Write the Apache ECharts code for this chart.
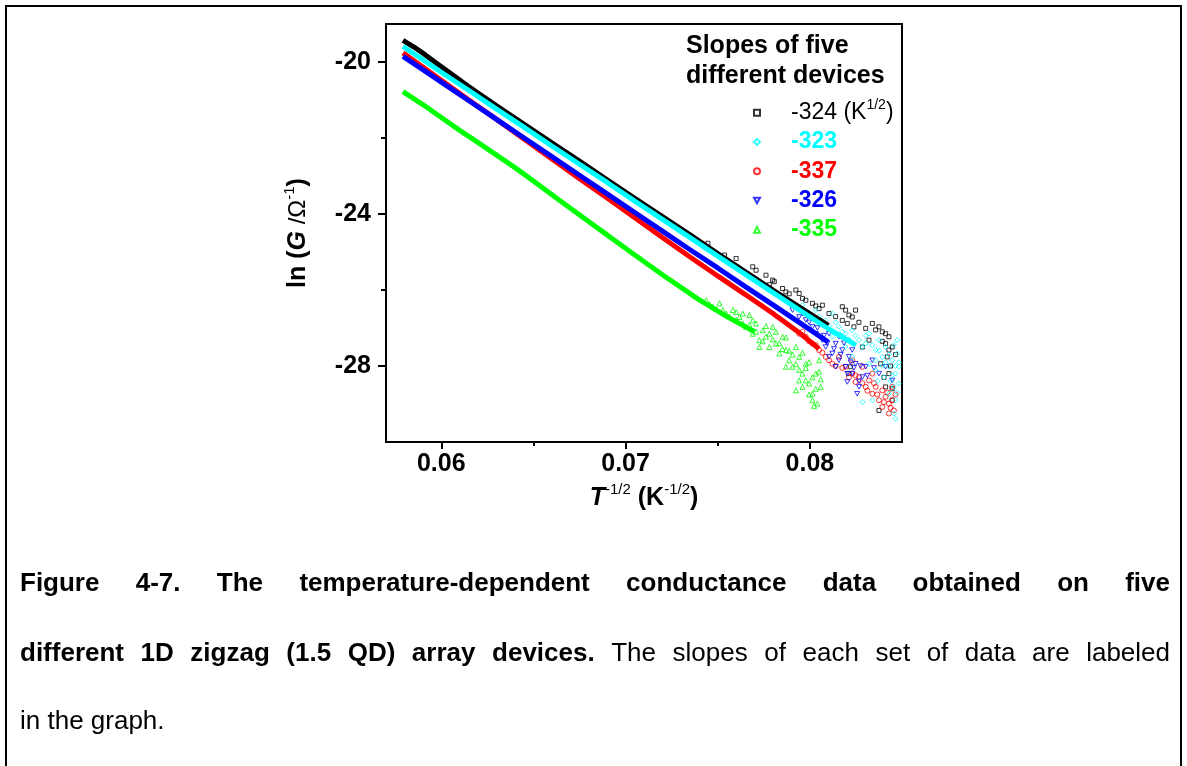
<!DOCTYPE html>
<html lang="en">
<head>
<meta charset="UTF-8">
<title>Slopes of five different devices</title>
<script src="https://cdn.jsdelivr.net/npm/echarts@6/dist/echarts.min.js"></script>
<style>
  html, body { margin: 0; padding: 0; background: #fff; }
  #chart_1 { width: 1187px; height: 766px; }
</style>
</head>
<body>
<div id="chart_1"></div>
<script>
// values: x = T^-1/2 (K^-1/2), y = ln(G / ohm^-1)
const xTicks = [0.06, 0.07, 0.08];
const xMinorTicks = [0.065, 0.075];
const yTicks = [-28, -24, -20];
const yMinorTicks = [-26, -22];

const slopes = ['-324', '-323', '-337', '-326', '-335'];
const colors = ['#000000', '#00ffff', '#ff0000', '#0000ff', '#00ff00'];

// dense part of each data set (the thick band)
const blackBand = [[0.05792,-19.43],[0.0585,-19.60],[0.0591,-19.80],[0.0598,-20.05],[0.0607,-20.37],[0.0615,-20.65],[0.0630,-21.15],[0.0645,-21.64],[0.0660,-22.13],[0.0675,-22.61],[0.0690,-23.10],[0.0705,-23.59],[0.0720,-24.07],[0.0735,-24.55],[0.0750,-25.04],[0.0765,-25.52],[0.0780,-26.00],[0.0795,-26.47],[0.0810,-26.93]];
const cyanBand = [[0.05792,-19.59],[0.0590,-19.94],[0.0600,-20.27],[0.0615,-20.75],[0.0630,-21.24],[0.0645,-21.72],[0.0660,-22.21],[0.0675,-22.69],[0.0690,-23.17],[0.0705,-23.66],[0.0720,-24.14],[0.0735,-24.62],[0.0750,-25.11],[0.0765,-25.59],[0.0780,-26.07],[0.0795,-26.55],[0.0810,-27.02],[0.0825,-27.45]];
const redBand = [[0.05792,-19.76],[0.0590,-20.13],[0.0600,-20.48],[0.0615,-21.00],[0.0630,-21.51],[0.0645,-22.03],[0.0660,-22.55],[0.0675,-23.07],[0.0690,-23.58],[0.0705,-24.10],[0.0720,-24.62],[0.0735,-25.13],[0.0750,-25.63],[0.0765,-26.12],[0.0780,-26.62],[0.0795,-27.15],[0.0805,-27.55]];
const blueBand = [[0.05792,-19.85],[0.0590,-20.20],[0.0600,-20.53],[0.0615,-21.02],[0.0630,-21.51],[0.0645,-22.00],[0.0660,-22.49],[0.0675,-22.98],[0.0690,-23.47],[0.0705,-23.96],[0.0720,-24.45],[0.0735,-24.94],[0.0750,-25.42],[0.0765,-25.91],[0.0780,-26.39],[0.0795,-26.88],[0.0810,-27.37]];
const greenBand = [[0.05792,-20.78],[0.0590,-21.12],[0.0600,-21.46],[0.0610,-21.80],[0.0620,-22.12],[0.0630,-22.45],[0.0640,-22.78],[0.0650,-23.13],[0.0663,-23.60],[0.0676,-24.06],[0.0690,-24.55],[0.0705,-25.08],[0.0720,-25.60],[0.0740,-26.26],[0.0755,-26.70],[0.0770,-27.10]];

// scattered points at low temperature (large T^-1/2)
const blackTail = [[0.07447,-24.77],[0.07537,-25.08],[0.07600,-25.17],[0.07690,-25.39],[0.07708,-25.48],[0.07762,-25.61],[0.07798,-25.74],[0.07807,-25.78],[0.07852,-25.96],[0.07870,-26.05],[0.07924,-26.00],[0.07942,-26.09],[0.07978,-26.27],[0.08014,-26.35],[0.08050,-26.49],[0.08104,-26.62],[0.08176,-26.44],[0.08194,-26.53],[0.08212,-26.66],[0.08230,-26.71],[0.08248,-26.53],[0.08203,-26.88],[0.08239,-26.97],[0.08303,-27.01],[0.08339,-26.88],[0.08375,-26.97],[0.08393,-27.10],[0.08411,-27.15],[0.08429,-27.23],[0.08411,-27.41],[0.08429,-27.58],[0.08447,-27.50],[0.08420,-27.76],[0.08384,-27.94],[0.08429,-28.20],[0.08411,-28.55],[0.08375,-29.17],[0.08447,-28.90],[0.08212,-28.20],[0.08221,-28.02],[0.08321,-27.32],[0.08285,-27.50],
    [0.07780,-25.86],[0.07888,-26.10],[0.07960,-26.22],[0.08032,-26.42],[0.08068,-26.40],[0.08140,-26.70],[0.08176,-26.80],[0.08266,-26.85],[0.08357,-27.05],[0.08393,-27.35],[0.08465,-27.70],[0.08438,-28.00],[0.08402,-28.30],[0.08447,-28.60]];
const cyanTail = [[0.08032,-26.53],[0.08086,-26.79],[0.08122,-26.62],[0.08158,-26.97],[0.08194,-27.15],[0.08230,-27.06],[0.08267,-27.32],[0.08303,-27.41],[0.08321,-27.15],[0.08357,-27.58],[0.08375,-27.32],[0.08393,-27.76],[0.08411,-27.50],[0.08429,-28.02],[0.08447,-27.85],[0.08465,-28.20],[0.08474,-27.67],[0.08483,-28.46],[0.08456,-28.55],[0.08429,-28.73],[0.08465,-28.90],[0.08456,-29.25],[0.08465,-29.39],[0.08339,-28.90],[0.08285,-28.95],[0.08357,-28.11],[0.08321,-27.94],[0.08230,-27.76],[0.08194,-27.50],[0.08122,-27.23],[0.08474,-27.32],[0.08483,-28.02],
    [0.07960,-26.40],[0.07996,-26.60],[0.08050,-26.70],[0.08104,-26.95],[0.08140,-26.85],[0.08176,-27.10],[0.08212,-27.30],[0.08248,-27.20],[0.08285,-27.50],[0.08303,-27.20],[0.08339,-27.45],[0.08357,-27.85],[0.08375,-27.60],[0.08393,-28.00],[0.08411,-27.90],[0.08429,-27.70],[0.08447,-28.25],[0.08465,-28.00],[0.08474,-28.70],[0.08483,-27.90],[0.08456,-27.45],[0.08438,-28.40],[0.08402,-28.30],[0.08366,-28.40]];
const redTail = [[0.07942,-27.15],[0.07978,-27.23],[0.08014,-27.41],[0.08050,-27.58],[0.08086,-27.76],[0.08122,-27.94],[0.08158,-27.76],[0.08194,-28.02],[0.08230,-28.20],[0.08248,-28.42],[0.08267,-28.29],[0.08303,-28.55],[0.08321,-28.38],[0.08339,-28.73],[0.08357,-28.55],[0.08375,-28.90],[0.08393,-28.64],[0.08411,-28.81],[0.08429,-28.99],[0.08447,-28.90],[0.08456,-29.17],[0.08429,-29.25],[0.08393,-29.08],[0.08339,-28.20],[0.08285,-28.02],[0.08447,-28.55],[0.08230,-27.85],
    [0.07960,-27.10],[0.07996,-27.35],[0.08032,-27.45],[0.08068,-27.65],[0.08104,-27.85],[0.08140,-28.00],[0.08176,-28.05],[0.08212,-28.30],[0.08248,-28.25],[0.08285,-28.45],[0.08312,-28.65],[0.08348,-28.45],[0.08366,-28.75],[0.08402,-28.95],[0.08420,-28.70],[0.08438,-29.10],[0.08465,-28.75]];
const blueTail = [[0.07906,-26.53],[0.07942,-26.71],[0.07978,-26.79],[0.08014,-26.97],[0.08032,-27.15],[0.08050,-26.88],[0.08068,-27.32],[0.08086,-27.50],[0.08104,-27.15],[0.08122,-27.67],[0.08140,-27.41],[0.08158,-27.85],[0.08176,-27.58],[0.08194,-28.02],[0.08212,-27.76],[0.08230,-28.20],[0.08248,-27.94],[0.08267,-28.55],[0.08285,-28.29],[0.08257,-28.73],[0.08203,-28.42],[0.08303,-28.02],[0.08339,-27.85],[0.08375,-28.20],[0.08411,-28.02],[0.08447,-28.38],[0.08140,-28.02],[0.08104,-27.76],[0.08158,-27.23],[0.08230,-27.58],
    [0.07960,-26.62],[0.07996,-26.85],[0.08041,-27.00],[0.08077,-27.20],[0.08095,-27.40],[0.08131,-27.55],[0.08167,-27.70],[0.08185,-27.40],[0.08221,-27.90],[0.08239,-28.05],[0.08203,-28.20],[0.08275,-28.00],[0.08312,-28.25],[0.08348,-28.05],[0.08266,-28.40]];
const greenTail = [[0.07438,-26.27],[0.07474,-26.44],[0.07510,-26.35],[0.07546,-26.62],[0.07582,-26.53],[0.07600,-26.79],[0.07618,-26.71],[0.07654,-26.97],[0.07672,-26.66],[0.07690,-27.15],[0.07708,-26.88],[0.07726,-27.32],[0.07744,-27.06],[0.07762,-27.23],[0.07780,-27.50],[0.07798,-26.97],[0.07816,-27.41],[0.07834,-27.67],[0.07852,-27.23],[0.07870,-27.58],[0.07888,-27.85],[0.07906,-28.02],[0.07924,-27.50],[0.07942,-27.76],[0.07960,-28.20],[0.07978,-27.94],[0.07996,-28.46],[0.08014,-28.90],[0.08032,-28.20],[0.08041,-28.99],[0.08050,-27.85],[0.08059,-28.55],[0.07942,-28.38],[0.07924,-28.64],[0.08014,-28.73],[0.07726,-27.50],[0.07636,-26.88],[0.07528,-26.53],[0.07870,-28.02],[0.07978,-28.38],
    [0.07456,-26.38],[0.07492,-26.50],[0.07564,-26.70],[0.07600,-26.58],[0.07636,-26.62],[0.07672,-26.92],[0.07690,-26.80],[0.07708,-27.10],[0.07744,-27.35],[0.07762,-26.95],[0.07780,-27.15],[0.07798,-27.30],[0.07816,-27.10],[0.07834,-27.40],[0.07852,-27.55],[0.07870,-27.25],[0.07888,-27.60],[0.07906,-27.70],[0.07924,-27.95],[0.07942,-28.10],[0.07960,-27.65],[0.07978,-28.05],[0.07996,-27.90],[0.08014,-28.30],[0.08032,-28.60],[0.08050,-28.15],[0.08059,-28.35],[0.07996,-28.75],[0.08023,-29.05],[0.07960,-28.55]];

const bands = [blackBand, cyanBand, redBand, blueBand, greenBand];
const tails = [blackTail, cyanTail, redTail, blueTail, greenTail];
const symbols = ['rect', 'diamond', 'circle', 'path://M0,0L10,0L5,9Z', 'triangle'];
const symbolSizes = [4, 5, 5, 5, 5];
const drawOrder = [0, 2, 3, 1, 4];

const FONT = '"Liberation Sans", Arial, sans-serif';

let myChart = echarts.init(document.getElementById('chart_1'));

// series: the scatter comes first so the legend takes its symbol
let series = [];
drawOrder.forEach(function (i) {
    series.push({
        name: slopes[i],
        type: 'scatter',
        data: tails[i],
        symbol: symbols[i],
        symbolSize: symbolSizes[i],
        symbolKeepAspect: true,
        itemStyle: { color: 'rgba(255,255,255,0)', borderColor: colors[i], borderWidth: 1 }
    });
    series.push({
        name: slopes[i],
        type: 'line',
        data: bands[i],
        showSymbol: false,
        symbol: 'none',
        lineStyle: { color: colors[i], width: 5 },
        itemStyle: { color: colors[i] }
    });
});

// caption under the chart, justified like the original text block
const caption = [
    { y: 584, justify: true, parts: [['Figure 4-7. The temperature-dependent conductance data obtained on five', true]] },
    { y: 654, justify: true, parts: [['different 1D zigzag (1.5 QD) array devices.', true], ['The slopes of each set of data are labeled', false]] },
    { y: 722, justify: false, parts: [['in the graph.', false]] }
];
const capSize = 26, capLeft = 20, capRight = 1170;
let ctx = document.createElement('canvas').getContext('2d');
function fontOf(bold) { return (bold ? 'bold ' : '') + capSize + 'px ' + FONT; }
function measure(t, bold) { ctx.font = fontOf(bold); return ctx.measureText(t).width; }

let graphics = [{
    type: 'polyline', silent: true,
    shape: { points: [[6, 766], [6, 6], [1181, 6], [1181, 766]] },
    style: { stroke: '#000', lineWidth: 2, fill: null }
}];
caption.forEach(function (line) {
    let words = [];
    line.parts.forEach(function (p) {
        p[0].split(' ').forEach(function (w) { words.push({ t: w, b: p[1], w: measure(w, p[1]) }); });
    });
    let total = words.reduce(function (s, w) { return s + w.w; }, 0);
    let gap = line.justify ? (capRight - capLeft - total) / (words.length - 1) : measure(' ', false);
    let x = capLeft;
    words.forEach(function (w) {
        graphics.push({
            type: 'text', silent: true, x: x, y: line.y,
            style: { text: w.t, fill: '#000', fontSize: capSize, fontWeight: w.b ? 'bold' : 'normal', fontFamily: FONT, verticalAlign: 'middle' }
        });
        x += w.w + gap;
    });
});

option = {
    animation: false,
    title: {
        text: 'Slopes of five\ndifferent devices',
        left: 686, top: 31, padding: 0,
        textStyle: { fontSize: 25, fontWeight: 'bold', lineHeight: 30, fontFamily: FONT, color: '#000' }
    },
    legend: {
        orient: 'vertical',
        left: 753, top: 98, padding: 0,
        itemWidth: 6, itemHeight: 6, itemGap: 0,
        selectedMode: false,
        data: slopes.map(function (s, i) {
            return { name: s, textStyle: { color: colors[i], fontWeight: i === 0 ? 'normal' : 'bold' } };
        }),
        formatter: function (name) {
            return name === '-324' ? '{g|}{a|-324 (K}{s|1/2}{a|)}' : '{g|}{a|' + name + '}';
        },
        textStyle: {
            fontSize: 23, fontFamily: FONT, lineHeight: 29.3,
            rich: {
                g: { width: 26, lineHeight: 29.3 },
                a: { fontSize: 23, fontFamily: FONT, lineHeight: 29.3 },
                s: { fontSize: 14, fontFamily: FONT, lineHeight: 29.3, verticalAlign: 'top', fontWeight: 'normal' }
            }
        }
    },
    grid: { left: 386, top: 24, width: 516, height: 418, show: true, borderColor: '#000', borderWidth: 2, outerBoundsMode: 'none' },
    xAxis: [{
        type: 'value', min: 0.057, max: 0.085,
        name: '{t|T}{s|-1/2}{n| (K}{s|-1/2}{n|)}',
        nameLocation: 'middle', nameGap: 33,
        nameTextStyle: {
            color: '#000', fontSize: 25, fontFamily: FONT, lineHeight: 32,
            rich: {
                t: { fontSize: 25, fontStyle: 'italic', fontWeight: 'bold', fontFamily: FONT, lineHeight: 32 },
                n: { fontSize: 25, fontWeight: 'bold', fontFamily: FONT, lineHeight: 32 },
                s: { fontSize: 15, fontFamily: FONT, lineHeight: 32, verticalAlign: 'top' }
            }
        },
        splitLine: { show: false },
        axisLine: { lineStyle: { color: '#000', width: 2 } },
        axisTick: { customValues: xTicks, length: 7, lineStyle: { color: '#000', width: 2 } },
        axisLabel: {
            customValues: xTicks, margin: 10, color: '#000', fontSize: 25, fontWeight: 'bold', fontFamily: FONT,
            formatter: function (v) { return v.toFixed(2); }
        }
    }, {
        type: 'value', min: 0.057, max: 0.085, position: 'bottom',
        splitLine: { show: false },
        axisLine: { show: false },
        axisLabel: { show: false },
        axisTick: { customValues: xMinorTicks, length: 4, lineStyle: { color: '#000', width: 2 } }
    }],
    yAxis: [{
        type: 'value', min: -30, max: -19, interval: 1,
        name: '{b|ln (}{i|G}{n| /Ω}{s|-1}{b|)}',
        nameLocation: 'middle', nameRotate: 90, nameGap: 72,
        nameTextStyle: {
            color: '#000', fontSize: 25, fontFamily: FONT, lineHeight: 32,
            rich: {
                b: { fontSize: 25, fontWeight: 'bold', fontFamily: FONT, lineHeight: 32 },
                i: { fontSize: 25, fontWeight: 'bold', fontStyle: 'italic', fontFamily: FONT, lineHeight: 32 },
                n: { fontSize: 24, fontFamily: FONT, lineHeight: 32 },
                s: { fontSize: 15, fontFamily: FONT, lineHeight: 32, verticalAlign: 'top' }
            }
        },
        splitLine: { show: false },
        axisLine: { lineStyle: { color: '#000', width: 2 } },
        axisTick: { customValues: yTicks, length: 8, lineStyle: { color: '#000', width: 2 } },
        axisLabel: { customValues: yTicks, margin: 15, color: '#000', fontSize: 25, fontWeight: 'bold', fontFamily: FONT }
    }, {
        type: 'value', min: -30, max: -19, interval: 1, position: 'left',
        splitLine: { show: false },
        axisLine: { show: false },
        axisLabel: { show: false },
        axisTick: { customValues: yMinorTicks, length: 5, lineStyle: { color: '#000', width: 2 } }
    }],
    graphic: graphics,
    series: series
};

myChart.setOption(option);
</script>
</body>
</html>
